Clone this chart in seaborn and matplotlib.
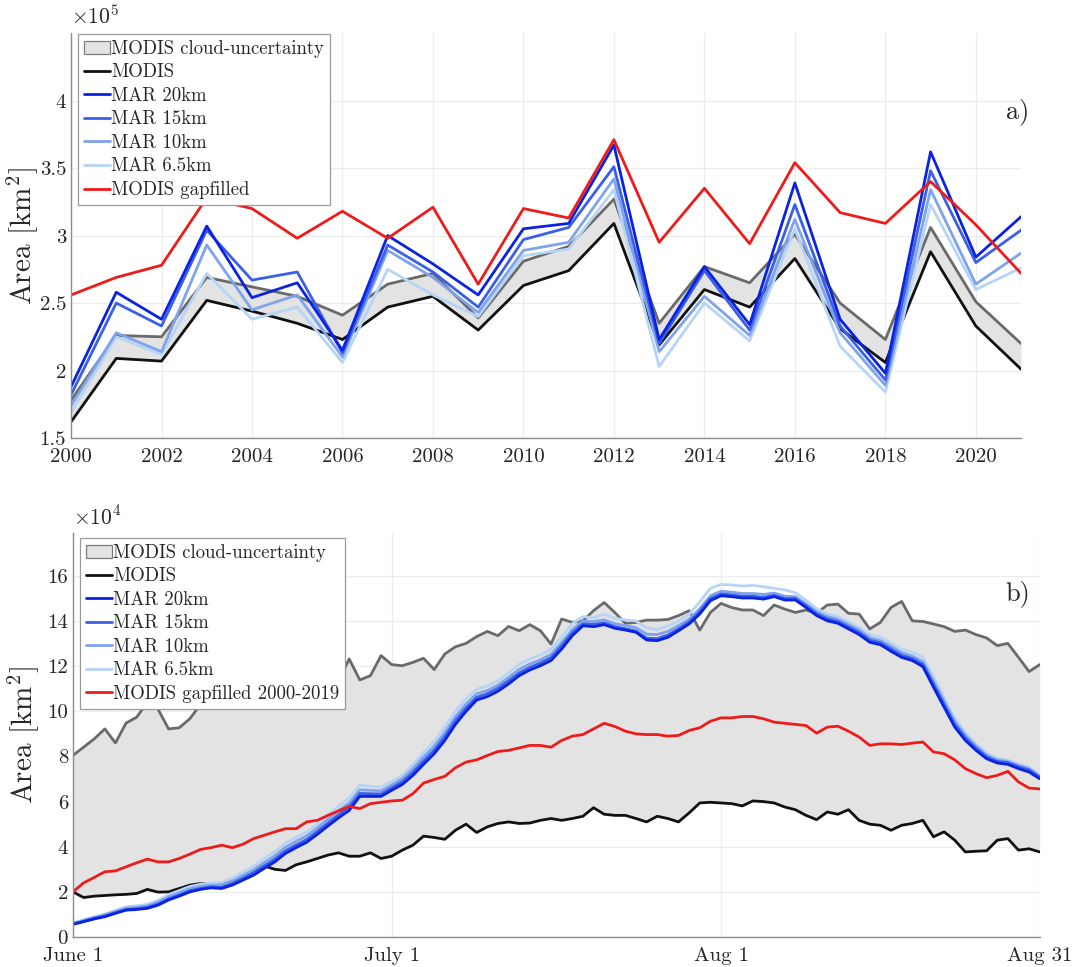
import numpy as np
import pandas as pd
import matplotlib
matplotlib.use("Agg")
import matplotlib.pyplot as plt
import seaborn as sns
from matplotlib.patches import Patch
from matplotlib.lines import Line2D

sns.set_style("white")
plt.rcParams["font.family"] = ["cmr10", "DejaVu Serif"]
plt.rcParams["mathtext.fontset"] = "cm"
plt.rcParams["axes.unicode_minus"] = False

# ---------- panel a: yearly area (x 10^5 km2) ----------
years = list(range(2000, 2022))
modis_a = [1.62, 2.09, 2.07, 2.52, 2.44, 2.35, 2.23, 2.47, 2.55, 2.30, 2.63,
           2.74, 3.09, 2.19, 2.60, 2.47, 2.83, 2.31, 2.06, 2.88, 2.33, 2.01]
modis_up_a = [1.78, 2.26, 2.25, 2.69, 2.62, 2.55, 2.41, 2.64, 2.72, 2.39, 2.81,
              2.92, 3.27, 2.35, 2.77, 2.65, 3.01, 2.50, 2.23, 3.06, 2.51, 2.20]
mar20_a = [1.88, 2.58, 2.38, 3.07, 2.54, 2.65, 2.15, 3.00, 2.79, 2.56, 3.05,
           3.09, 3.67, 2.23, 2.77, 2.34, 3.39, 2.38, 1.98, 3.62, 2.84, 3.14]
mar15_a = [1.82, 2.50, 2.33, 3.04, 2.67, 2.73, 2.13, 2.93, 2.73, 2.47, 2.97,
           3.06, 3.51, 2.20, 2.74, 2.30, 3.23, 2.33, 1.93, 3.48, 2.80, 3.04]
mar10_a = [1.74, 2.28, 2.14, 2.93, 2.45, 2.56, 2.10, 2.89, 2.69, 2.43, 2.89,
           2.95, 3.42, 2.14, 2.55, 2.26, 3.12, 2.28, 1.89, 3.34, 2.64, 2.87]
mar65_a = [1.69, 2.25, 2.12, 2.72, 2.38, 2.47, 2.06, 2.75, 2.56, 2.40, 2.85,
           2.90, 3.34, 2.03, 2.50, 2.22, 3.05, 2.18, 1.84, 3.23, 2.60, 2.76]
gap_a = [2.56, 2.69, 2.78, 3.28, 3.20, 2.98, 3.18, 2.98, 3.21, 2.64, 3.20,
         3.13, 3.71, 2.95, 3.35, 2.94, 3.54, 3.17, 3.09, 3.40, 3.08, 2.72]
yticks_a = [1.5, 2, 2.5, 3, 3.5, 4]
ytick_labels_a = ["1.5", "2", "2.5", "3", "3.5", "4"]
xticks_a = list(range(2000, 2021, 2))

# ---------- panel b: daily area (x 10^4 km2), June 1 - Aug 31 ----------
days = pd.date_range("2020-06-01", "2020-08-31", freq="D")
modis_b = [2.00, 1.75, 1.81, 1.84, 1.87, 1.89, 1.93, 2.11, 1.99, 2.00, 2.15, 2.30,
           2.37, 2.37, 2.34, 2.45, 2.60, 2.85, 3.15, 3.00, 2.95, 3.20, 3.33, 3.48,
           3.63, 3.73, 3.58, 3.58, 3.73, 3.48, 3.58, 3.85, 4.07, 4.47, 4.41, 4.33,
           4.73, 5.00, 4.63, 4.88, 5.03, 5.10, 5.03, 5.05, 5.17, 5.25, 5.17, 5.25,
           5.35, 5.73, 5.44, 5.39, 5.39, 5.25, 5.10, 5.35, 5.25, 5.10, 5.50, 5.94,
           5.97, 5.94, 5.91, 5.81, 6.03, 6.00, 5.94, 5.76, 5.64, 5.39, 5.20, 5.54,
           5.44, 5.64, 5.17, 5.00, 4.95, 4.73, 4.95, 5.03, 5.17, 4.44, 4.66, 4.29,
           3.77, 3.80, 3.82, 4.29, 4.36, 3.85, 3.91, 3.77]
modis_up_b = [8.05, 8.41, 8.78, 9.22, 8.60, 9.48, 9.74, 10.40, 10.10, 9.22, 9.27, 9.67,
              10.30, 10.20, 10.47, 10.60, 10.47, 10.60, 10.47, 10.90, 11.20, 10.80, 11.40, 11.10,
              11.60, 11.36, 12.32, 11.39, 11.58, 12.47, 12.07, 12.02, 12.17, 12.35, 11.85, 12.54,
              12.86, 13.01, 13.31, 13.54, 13.35, 13.76, 13.57, 13.84, 13.57, 12.98, 14.09, 13.94,
              14.01, 14.46, 14.82, 14.38, 13.90, 13.94, 14.04, 14.04, 14.07, 14.24, 14.46, 13.60,
              14.38, 14.78, 14.60, 14.49, 14.49, 14.24, 14.71, 14.53, 14.38, 14.49, 14.34, 14.71,
              14.75, 14.34, 14.31, 13.65, 13.94, 14.60, 14.87, 14.01, 13.98, 13.87, 13.75, 13.54,
              13.60, 13.40, 13.25, 12.91, 13.01, 12.39, 11.76, 12.07]
mar20_b = [0.56, 0.68, 0.80, 0.90, 1.05, 1.19, 1.22, 1.27, 1.41, 1.64, 1.81, 2.00,
           2.11, 2.18, 2.15, 2.30, 2.52, 2.74, 3.04, 3.33, 3.70, 3.96, 4.20, 4.55,
           4.92, 5.28, 5.61, 6.23, 6.23, 6.23, 6.50, 6.76, 7.16, 7.65, 8.12, 8.71,
           9.42, 10.00, 10.50, 10.65, 10.89, 11.21, 11.58, 11.83, 12.02, 12.25, 12.76, 13.35,
           13.79, 13.75, 13.84, 13.68, 13.60, 13.50, 13.16, 13.13, 13.28, 13.57, 13.87, 14.31,
           14.90, 15.12, 15.08, 15.02, 15.02, 14.97, 15.08, 14.93, 14.93, 14.60, 14.24, 14.01,
           13.90, 13.65, 13.40, 13.06, 12.95, 12.66, 12.39, 12.25, 11.98, 11.07, 10.18, 9.30,
           8.71, 8.27, 7.90, 7.71, 7.65, 7.46, 7.31, 7.01]
mar15_b = [0.58, 0.70, 0.83, 0.93, 1.08, 1.22, 1.25, 1.31, 1.46, 1.69, 1.86, 2.05,
           2.15, 2.22, 2.20, 2.37, 2.60, 2.84, 3.15, 3.45, 3.82, 4.08, 4.32, 4.68,
           5.05, 5.42, 5.76, 6.36, 6.35, 6.34, 6.61, 6.88, 7.30, 7.80, 8.28, 8.88,
           9.58, 10.15, 10.62, 10.78, 11.02, 11.35, 11.70, 11.95, 12.14, 12.38, 12.90, 13.48,
           13.88, 13.85, 13.92, 13.75, 13.66, 13.55, 13.24, 13.22, 13.38, 13.66, 13.96, 14.42,
           15.00, 15.20, 15.16, 15.10, 15.10, 15.05, 15.14, 15.00, 15.00, 14.68, 14.32, 14.10,
           13.98, 13.74, 13.50, 13.15, 13.04, 12.76, 12.48, 12.34, 12.08, 11.20, 10.30, 9.42,
           8.82, 8.36, 7.98, 7.78, 7.72, 7.54, 7.40, 7.08]
mar10_b = [0.60, 0.73, 0.86, 0.97, 1.13, 1.28, 1.31, 1.38, 1.54, 1.78, 1.96, 2.14,
           2.24, 2.30, 2.30, 2.48, 2.73, 2.98, 3.30, 3.60, 3.98, 4.24, 4.48, 4.84,
           5.22, 5.60, 5.94, 6.52, 6.50, 6.48, 6.74, 7.02, 7.46, 7.98, 8.46, 9.06,
           9.76, 10.32, 10.78, 10.92, 11.16, 11.50, 11.86, 12.10, 12.28, 12.52, 13.05, 13.62,
           14.00, 13.98, 14.05, 13.88, 13.80, 13.70, 13.42, 13.40, 13.54, 13.80, 14.08, 14.55,
           15.12, 15.32, 15.28, 15.22, 15.22, 15.18, 15.24, 15.10, 15.08, 14.76, 14.42, 14.20,
           14.08, 13.84, 13.60, 13.26, 13.14, 12.88, 12.60, 12.45, 12.20, 11.34, 10.44, 9.55,
           8.94, 8.46, 8.06, 7.84, 7.78, 7.60, 7.46, 7.12]
mar65_b = [0.62, 0.76, 0.90, 1.02, 1.18, 1.34, 1.38, 1.45, 1.62, 1.88, 2.06, 2.24,
           2.34, 2.40, 2.42, 2.62, 2.88, 3.14, 3.48, 3.78, 4.16, 4.42, 4.66, 5.02,
           5.40, 5.80, 6.16, 6.72, 6.68, 6.65, 6.90, 7.18, 7.64, 8.18, 8.68, 9.30,
           10.00, 10.55, 10.98, 11.12, 11.36, 11.70, 12.08, 12.32, 12.50, 12.74, 13.30, 13.88,
           14.20, 14.15, 14.30, 14.12, 14.05, 14.00, 13.70, 13.62, 13.78, 14.00, 14.30, 14.85,
           15.45, 15.62, 15.60, 15.55, 15.58, 15.52, 15.45, 15.38, 15.25, 14.92, 14.55, 14.32,
           14.20, 13.96, 13.72, 13.40, 13.30, 13.02, 12.76, 12.62, 12.40, 11.55, 10.62, 9.70,
           9.05, 8.55, 8.15, 7.92, 7.84, 7.66, 7.52, 7.16]
gap_b = [2.00, 2.40, 2.64, 2.89, 2.93, 3.11, 3.29, 3.45, 3.33, 3.33, 3.48, 3.67,
         3.88, 3.96, 4.07, 3.96, 4.11, 4.36, 4.51, 4.66, 4.80, 4.80, 5.10, 5.17,
         5.39, 5.59, 5.79, 5.69, 5.91, 5.97, 6.03, 6.06, 6.35, 6.82, 6.98, 7.12,
         7.50, 7.75, 7.85, 8.04, 8.22, 8.27, 8.38, 8.49, 8.49, 8.41, 8.71, 8.90,
         8.97, 9.22, 9.47, 9.33, 9.12, 9.00, 8.97, 8.97, 8.90, 8.93, 9.15, 9.27,
         9.56, 9.71, 9.71, 9.77, 9.77, 9.67, 9.52, 9.47, 9.42, 9.37, 9.03, 9.30,
         9.34, 9.12, 8.86, 8.49, 8.56, 8.56, 8.53, 8.59, 8.64, 8.20, 8.12, 7.85,
         7.46, 7.24, 7.06, 7.16, 7.34, 6.87, 6.60, 6.56]
yticks_b = [0, 2, 4, 6, 8, 10, 12, 14, 16]
xtick_dates_b = ["2020-06-01", "2020-07-01", "2020-08-01", "2020-08-31"]
xtick_labels_b = ["June 1", "July 1", "Aug 1", "Aug 31"]

# colours
c_fill = "#e3e3e3"
c_up = "#6a6a6a"
c_modis = "#111111"
c_mar = ["#0a22e2", "#3b5fe9", "#7fa3ef", "#b6d5f6"]
c_gap = "#ee1b1b"
c_text = "#262626"
lw = 2.0

fig = plt.figure(figsize=(10.73, 9.67), dpi=100)
ax_a = fig.add_axes([0.0662, 0.547, 0.8854, 0.4188])
ax_b = fig.add_axes([0.068, 0.031, 0.901, 0.4178])


def style_axis(ax):
    for s in ["top", "right"]:
        ax.spines[s].set_visible(False)
    for s in ["left", "bottom"]:
        ax.spines[s].set_color("#8c8c8c")
        ax.spines[s].set_linewidth(1.0)
    ax.tick_params(direction="in", length=5, width=0.8, color="#8c8c8c",
                   labelsize=15, labelcolor=c_text)
    ax.tick_params(axis="x", pad=7)
    ax.tick_params(axis="y", pad=3.5)
    ax.grid(True, color="#ececec", linewidth=0.9)
    ax.set_axisbelow(True)
    ax.set_xlabel("")


def make_legend(ax, last_label, anchor):
    handles = [Patch(facecolor=c_fill, edgecolor="#7a7a7a", linewidth=0.9),
               Line2D([], [], color=c_modis, lw=lw)]
    handles += [Line2D([], [], color=c, lw=lw) for c in c_mar]
    handles += [Line2D([], [], color=c_gap, lw=lw)]
    labels = ["MODIS cloud-uncertainty", "MODIS", "MAR 20km", "MAR 15km",
              "MAR 10km", "MAR 6.5km", last_label]
    leg = ax.legend(handles, labels, loc="upper left", bbox_to_anchor=anchor,
                    fontsize=13.5, frameon=True, fancybox=False, framealpha=1,
                    edgecolor="#9a9a9a", handlelength=1.4, handletextpad=0.08,
                    labelspacing=0.3, borderpad=0.3, borderaxespad=0)
    leg.get_frame().set_linewidth(0.9)
    for t in leg.get_texts():
        t.set_color(c_text)


mar_a = [mar20_a, mar15_a, mar10_a, mar65_a]
mar_b = [mar20_b, mar15_b, mar10_b, mar65_b]

# ---- panel a ----
ax = ax_a
ax.fill_between(years, modis_a, modis_up_a, color=c_fill, lw=0)
sns.lineplot(x=years, y=modis_up_a, ax=ax, color=c_up, lw=lw)
sns.lineplot(x=years, y=modis_a, ax=ax, color=c_modis, lw=lw)
for vals, c in zip(mar_a[::-1], c_mar[::-1]):
    sns.lineplot(x=years, y=vals, ax=ax, color=c, lw=lw)
sns.lineplot(x=years, y=gap_a, ax=ax, color=c_gap, lw=lw)
ax.set_xlim(2000, 2021)
ax.set_ylim(1.5, 4.5)
ax.set_xticks(xticks_a)
ax.set_xticklabels([str(y) for y in xticks_a])
ax.set_yticks(yticks_a)
ax.set_yticklabels(ytick_labels_a)
style_axis(ax)
ax.set_ylabel(r"Area [km$^2$]", fontsize=21, color=c_text)
ax.yaxis.set_label_coords(-0.033, 0.5)
ax.text(0.0, 1.012, r"$\times10^5$", transform=ax.transAxes, fontsize=15.5,
        color=c_text, ha="left", va="bottom")
ax.text(1.009, 0.805, "a)", transform=ax.transAxes, fontsize=19,
        color=c_text, ha="right", va="center")
make_legend(ax, "MODIS gapfilled", (0.0074, 0.9975))

# ---- panel b ----
ax = ax_b
ax.fill_between(days, modis_b, modis_up_b, color=c_fill, lw=0)
sns.lineplot(x=days, y=modis_up_b, ax=ax, color=c_up, lw=lw)
sns.lineplot(x=days, y=modis_b, ax=ax, color=c_modis, lw=lw)
for vals, c in zip(mar_b[::-1], c_mar[::-1]):
    sns.lineplot(x=days, y=vals, ax=ax, color=c, lw=lw)
sns.lineplot(x=days, y=gap_b, ax=ax, color=c_gap, lw=lw)
ax.set_xlim(days[0], days[-1])
ax.set_ylim(0, 17.9)
tick_dates = pd.to_datetime(xtick_dates_b)
ax.set_xticks(tick_dates)
ax.set_xticklabels(xtick_labels_b)
ax.set_yticks(yticks_b)
ax.set_yticklabels([str(v) for v in yticks_b])
style_axis(ax)
ax.set_ylabel(r"Area [km$^2$]", fontsize=21, color=c_text)
ax.yaxis.set_label_coords(-0.033, 0.5)
ax.text(0.0, 1.012, r"$\times10^4$", transform=ax.transAxes, fontsize=15.5,
        color=c_text, ha="left", va="bottom")
ax.text(0.99, 0.851, "b)", transform=ax.transAxes, fontsize=19,
        color=c_text, ha="right", va="center")
make_legend(ax, "MODIS gapfilled 2000-2019", (0.0072, 0.9876))

fig.savefig("out.png", dpi=100)
